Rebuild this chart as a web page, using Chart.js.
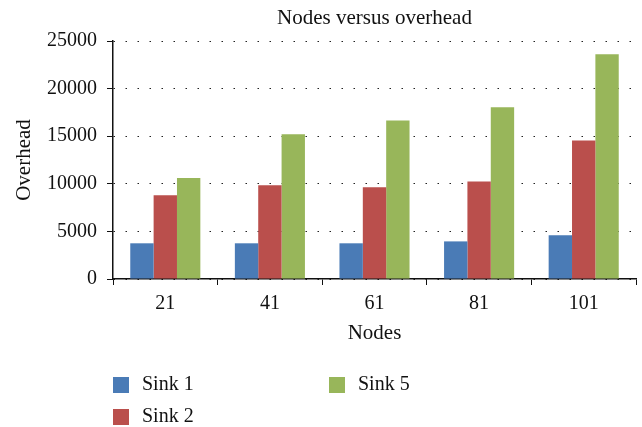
<!DOCTYPE html>
<html>
<head>
<meta charset="utf-8">
<script src="https://cdn.jsdelivr.net/npm/chart.js@4"></script>
<style>
  body { margin: 0; background: #fff; }
  #wrap { position: relative; width: 642px; height: 427px; }
  #legend { position: absolute; left: 0; top: 0; font-family: "Liberation Serif", serif; font-size: 20px; color: #111; }
  .item { position: absolute; white-space: nowrap; }
  .box { position: absolute; width: 16px; height: 16px; }
  .lbl { position: absolute; left: 29px; top: -5px; }
</style>
</head>
<body>
<div id="wrap">
  <canvas id="chart" width="642" height="427"></canvas>
  <div id="legend"></div>
</div>
<script>
const nodes = ["21", "41", "61", "81", "101"];
const sink1 = [3750, 3750, 3750, 3950, 4600];
const sink2 = [8800, 9850, 9650, 10250, 14550];
const sink5 = [10600, 15200, 16650, 18050, 23600];
const seriesNames = ["Sink 1", "Sink 2", "Sink 5"];
const seriesColors = ["#4a7bb6", "#ba4f4c", "#98b65a"];
const chartTitle = "Nodes versus overhead";

const font = "'Liberation Serif', 'Times New Roman', serif";

// title centred over the plot area, not the whole canvas
const titlePlugin = {
  id: "plotTitle",
  afterDraw(c) {
    const ctx = c.ctx;
    const a = c.chartArea;
    ctx.save();
    ctx.font = "21px " + font;
    ctx.fillStyle = "#111";
    ctx.textAlign = "center";
    ctx.textBaseline = "middle";
    ctx.fillText(chartTitle, (a.left + a.right) / 2, 18);
    ctx.restore();
  }
};

const chart = new Chart(document.getElementById("chart"), {
  type: "bar",
  data: {
    labels: nodes,
    datasets: [sink1, sink2, sink5].map((d, i) => ({
      label: seriesNames[i],
      data: d,
      backgroundColor: seriesColors[i],
      borderWidth: 0,
      barPercentage: 1,
      categoryPercentage: 0.67
    }))
  },
  options: {
    responsive: false,
    animation: false,
    layout: { padding: { left: 0, right: 6, top: 41, bottom: 78 } },
    plugins: {
      legend: { display: false },
      tooltip: { enabled: false },
      title: { display: false }
    },
    scales: {
      x: {
        afterFit: s => { s.height = 70; },
        grid: { offset: true, drawOnChartArea: false, drawTicks: true, tickLength: 6, color: "#111" },
        border: { color: "#111", width: 1.5 },
        ticks: { color: "#111", padding: 7, font: { family: font, size: 20 } },
        title: {
          display: true, text: "Nodes", color: "#111",
          font: { family: font, size: 21 },
          padding: { top: 0, bottom: 3 }
        }
      },
      y: {
        min: 0, max: 25000,
        afterFit: s => { s.width = 113; },
        grid: { color: "#222", tickLength: 6, tickColor: "#111", tickBorderDash: [], lineWidth: 1 },
        border: { color: "#111", width: 1.5, dash: [1.5, 10.5] },
        ticks: {
          stepSize: 5000, color: "#111", padding: 10,
          font: { family: font, size: 20 },
          callback: v => String(v)
        },
        title: {
          display: true, text: "Overhead", color: "#111",
          font: { family: font, size: 21 },
          padding: { top: 12, bottom: 0 }
        }
      }
    }
  },
  plugins: [titlePlugin]
});

// legend laid out in two columns like the original
const legendPos = [[113, 377], [113, 409], [329, 377]];
const legend = document.getElementById("legend");
seriesNames.forEach((name, i) => {
  const it = document.createElement("div");
  it.className = "item";
  it.style.left = legendPos[i][0] + "px";
  it.style.top = legendPos[i][1] + "px";
  it.innerHTML = `<div class="box" style="background:${seriesColors[i]}"></div><span class="lbl">${name}</span>`;
  legend.appendChild(it);
});
</script>
</body>
</html>
